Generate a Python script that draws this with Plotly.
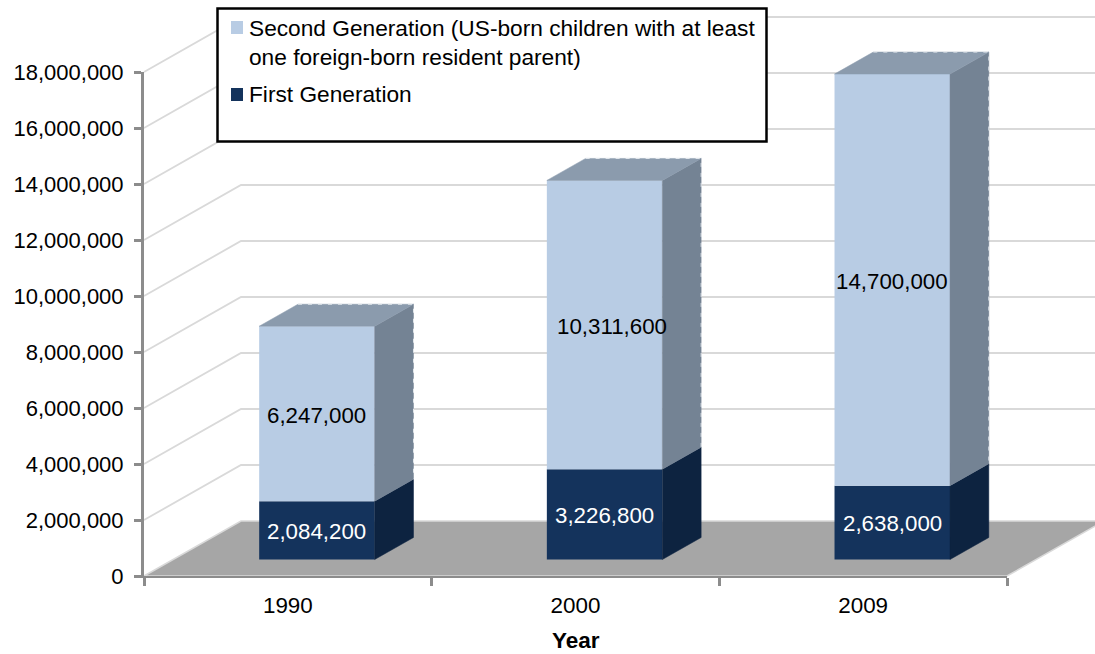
import plotly.graph_objects as go

# Children of immigrants by generation
years = ["1990", "2000", "2009"]
first_generation = [2084200, 3226800, 2638000]
second_generation = [6247000, 10311600, 14700000]
y_ticks = [0, 2000000, 4000000, 6000000, 8000000, 10000000, 12000000, 14000000, 16000000, 18000000]
series_names = ["Second Generation (US-born children with at least<br>one foreign-born resident parent)", "First Generation"]

W, H = 1095, 654
FONT = "Liberation Sans, Arial, sans-serif"

# Plot frame in pixels and the scale it implies
LEFT, RIGHT, BASE_PX, TOP_PX = 144.0, 1007.0, 576.0, 72.0
PX_PER_CAT = (RIGHT - LEFT) / 3
PX_PER_VAL = (BASE_PX - TOP_PX) / 18000000

# Oblique depth of the floor, expressed in axis units
DEPTH_X = 97.0 / PX_PER_CAT
DEPTH_Y = 55.0 / PX_PER_VAL
BAR_WIDTH = 115.5 / PX_PER_CAT
NEAR, FAR = 0.3, 0.7
BAR_SHIFT = 0.5 - BAR_WIDTH / 2  # centred in the category before depth shift

GRID = "#D9D9D9"
AXIS = "#8C8C8C"
FLOOR = "#A6A6A6"
COL_2ND = ("#B8CCE4", "#748394", "#8B9BAD")
COL_1ST = ("#14335C", "#0D2340", "#0D2340")

x_full = [-LEFT / PX_PER_CAT, (W - LEFT) / PX_PER_CAT]
y_full = [-(H - BASE_PX) / PX_PER_VAL, BASE_PX / PX_PER_VAL]

fig = go.Figure()


def add_poly(xs, ys, fill, axes, line=None, width=0):
    fig.add_trace(go.Scatter(
        x=xs, y=ys, mode="lines", fill="toself", fillcolor=fill,
        line=dict(color=line or fill, width=width if line else 0.5),
        hoverinfo="skip", showlegend=False, xaxis=axes[0], yaxis=axes[1],
    ))


back = ("x", "y")
mid = ("x2", "y2")

# Floor and the wall gridlines sit behind everything else
add_poly([0, 3, 3 + DEPTH_X, DEPTH_X, 0], [0, 0, DEPTH_Y, DEPTH_Y, 0], FLOOR, back, line=GRID, width=1.5)
for t in y_ticks[1:]:
    fig.add_trace(go.Scatter(
        x=[0, DEPTH_X, 3 + DEPTH_X], y=[t, t + DEPTH_Y, t + DEPTH_Y], mode="lines",
        line=dict(color=GRID, width=1.8), hoverinfo="skip", showlegend=False,
        xaxis="x", yaxis="y",
    ))

# Front faces, raised and shifted by the near depth of the bars
lefts = [i + BAR_SHIFT + NEAR * DEPTH_X for i in range(3)]
centers = [v + BAR_WIDTH / 2 for v in lefts]
y0 = NEAR * DEPTH_Y
fig.add_trace(go.Bar(
    x=centers, y=first_generation, base=[y0] * 3, width=BAR_WIDTH, marker=dict(color=COL_1ST[0], line=dict(width=0)),
    name="First Generation", showlegend=False, xaxis="x2", yaxis="y2", hoverinfo="skip",
))
fig.add_trace(go.Bar(
    x=centers, y=second_generation, base=[y0 + v for v in first_generation], width=BAR_WIDTH,
    marker=dict(color=COL_2ND[0], line=dict(width=0)),
    name="Second Generation", showlegend=False, xaxis="x2", yaxis="y2", hoverinfo="skip",
))

# Side and top faces follow from the same values
dx = (FAR - NEAR) * DEPTH_X
dy = (FAR - NEAR) * DEPTH_Y
for i in range(3):
    xr = lefts[i] + BAR_WIDTH
    a = y0
    b = y0 + first_generation[i]
    c = b + second_generation[i]
    add_poly([xr, xr + dx, xr + dx, xr, xr], [a, a + dy, b + dy, b, a], COL_1ST[1], mid)
    add_poly([xr, xr + dx, xr + dx, xr, xr], [b, b + dy, c + dy, c, b], COL_2ND[1], mid)
    add_poly([lefts[i], xr, xr + dx, lefts[i] + dx, lefts[i]], [c, c, c + dy, c + dy, c], COL_2ND[2], mid)
    # Light broken edge along the far side of the upper segment
    fig.add_trace(go.Scatter(
        x=[lefts[i] + dx, xr + dx, xr + dx], y=[c + dy, c + dy, b + dy], mode="lines",
        line=dict(color="#E6EAEE", width=1, dash="4px,6px"), hoverinfo="skip", showlegend=False,
        xaxis="x2", yaxis="y2",
    ))

# Carries the visible tick axes, drawn over the floor
fig.add_trace(go.Scatter(x=[0], y=[0], mode="markers", marker=dict(opacity=0), hoverinfo="skip",
                         showlegend=False, xaxis="x3", yaxis="y3"))

full_axis = dict(visible=False, fixedrange=True, automargin=False)
fig.update_layout(
    width=W, height=H, autosize=False,
    margin=dict(l=0, r=0, t=0, b=0, pad=0, autoexpand=False),
    paper_bgcolor="white", plot_bgcolor="rgba(0,0,0,0)",
    barmode="overlay", showlegend=False,
    font=dict(family=FONT, size=22, color="black"),
    xaxis=dict(range=x_full, domain=[0, 1], anchor="y", **full_axis),
    yaxis=dict(range=y_full, domain=[0, 1], anchor="x", **full_axis),
    xaxis2=dict(range=x_full, domain=[0, 1], anchor="y2", **full_axis),
    yaxis2=dict(range=y_full, domain=[0, 1], anchor="x2", **full_axis),
    xaxis3=dict(
        range=[0, 3], domain=[LEFT / W, RIGHT / W], anchor="y3", fixedrange=True, automargin=False,
        showgrid=False, zeroline=False, showline=True, linecolor=AXIS, linewidth=1.5,
        tickmode="array", tickvals=[0.5, 1.5, 2.5], ticktext=years, ticks="",
        ticklabelstandoff=8,
        tickfont=dict(family=FONT, size=22.4),
        minor=dict(tickmode="array", tickvals=[0, 1, 2, 3], ticks="outside", ticklen=8,
                   tickwidth=2.5, tickcolor=AXIS, showgrid=False),
    ),
    yaxis3=dict(
        range=[0, 18000000], domain=[(H - BASE_PX) / H, (H - TOP_PX) / H], anchor="x3", fixedrange=True,
        automargin=False, showgrid=False, zeroline=False, showline=True, linecolor=AXIS, linewidth=3,
        tickmode="array", tickvals=y_ticks, ticktext=[f"{t:,}" for t in y_ticks],
        ticks="outside", ticklen=7, tickwidth=2.5, tickcolor=AXIS,
        ticklabelstandoff=6,
        tickfont=dict(family=FONT, size=22),
    ),
)

# Value labels placed at the middle of each segment
label_font = dict(family=FONT, size=22.3)
x_nudge = [0, 7, 0]
for i in range(3):
    a = y0 + first_generation[i] / 2
    b = y0 + first_generation[i] + second_generation[i] / 2
    fig.add_annotation(x=centers[i], y=a, xref="x2", yref="y2", text=f"{first_generation[i]:,}",
                       showarrow=False, yshift=-1, font=dict(color="white", **label_font))
    fig.add_annotation(x=centers[i], y=b, xref="x2", yref="y2", text=f"{second_generation[i]:,}",
                       showarrow=False, yshift=-2, xshift=x_nudge[i], font=dict(color="black", **label_font))


def px(x):
    return x / W


def py(y):
    return 1 - y / H


# Horizontal axis name
fig.add_annotation(x=px(576), y=py(640), xref="paper", yref="paper", xanchor="center", yanchor="middle",
                   text="<b>Year</b>", showarrow=False, font=dict(family=FONT, size=22.5))

# Key: framed panel with swatches and entry text
key_font = dict(family=FONT, size=22.7)
fig.add_shape(type="rect", xref="paper", yref="paper", x0=px(217.5), x1=px(766.5), y0=py(8.5), y1=py(141.5),
              fillcolor="white", line=dict(color="black", width=2.5), layer="above")
fig.add_shape(type="rect", xref="paper", yref="paper", x0=px(231), x1=px(243), y0=py(21), y1=py(34),
              fillcolor=COL_2ND[0], line=dict(width=0), layer="above")
fig.add_shape(type="rect", xref="paper", yref="paper", x0=px(231), x1=px(243), y0=py(88), y1=py(101),
              fillcolor=COL_1ST[0], line=dict(width=0), layer="above")
fig.add_annotation(x=px(247), y=py(28), xref="paper", yref="paper", xanchor="left", yanchor="middle",
                   text=series_names[0].split("<br>")[0], showarrow=False, font=key_font)
fig.add_annotation(x=px(247), y=py(57), xref="paper", yref="paper", xanchor="left", yanchor="middle",
                   text=series_names[0].split("<br>")[1], showarrow=False, font=key_font)
fig.add_annotation(x=px(247), y=py(94.5), xref="paper", yref="paper", xanchor="left", yanchor="middle",
                   text=series_names[1], showarrow=False, font=key_font)

fig.write_html("out.html", config=dict(displayModeBar=False))
